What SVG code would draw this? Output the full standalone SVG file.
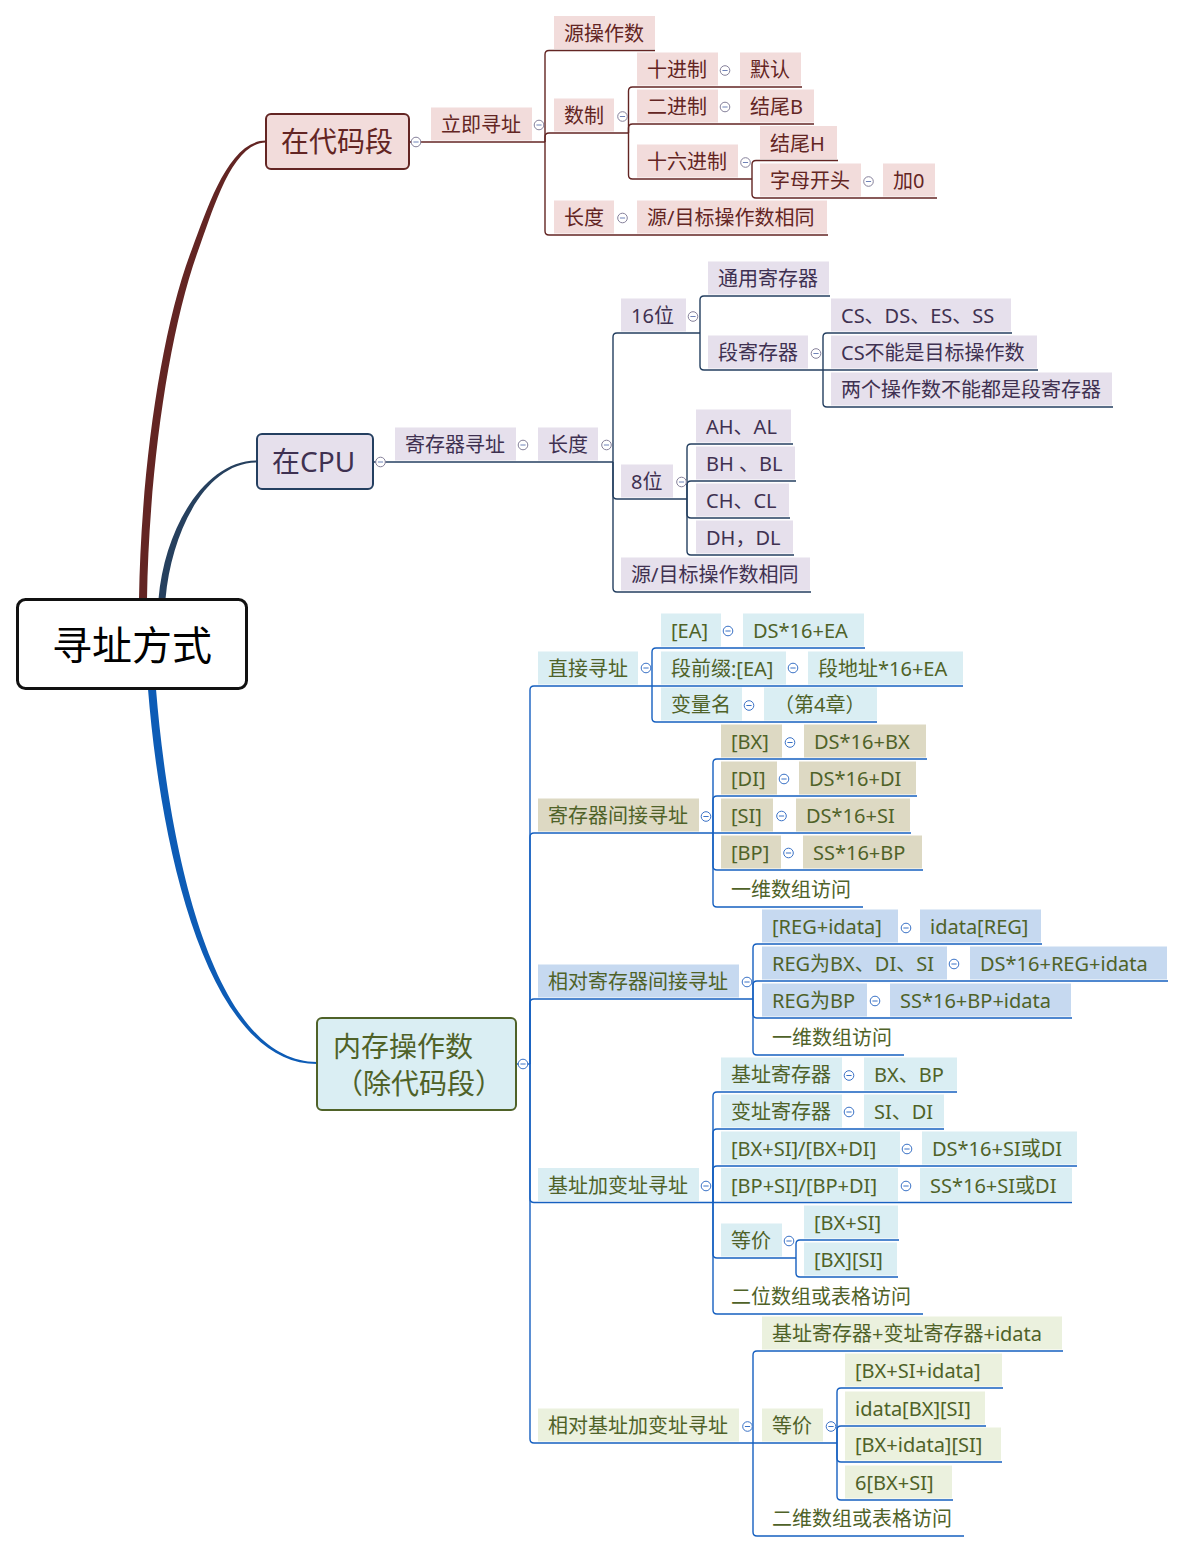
<svg xmlns="http://www.w3.org/2000/svg" width="1183" height="1552" viewBox="0 0 1183 1552">
<style>
.t{font-family:"Noto Sans","Noto Sans CJK SC",sans-serif;font-size:20px;transform:translateY(1px)}
.tb{font-family:"Noto Sans","Noto Sans CJK SC",sans-serif;font-size:28px}
.tc{fill:#632523}.tp{fill:#3f3151}.tm{fill:#4f6228}
.fc{fill:#f2dcdb}.fp{fill:#e6e0ec}.fd{fill:#daeef3}.fr{fill:#ddd9c3}.fb{fill:#c6d9f0}.fg{fill:#ebf1de}
.l{fill:none;stroke-width:1.4}
.lc{stroke:#632523}.lp{stroke:#243f60}.lm{stroke:#1660c0}
</style>
<defs>
<g id="col-c"><circle r="4.8" fill="#fff" stroke="#85809a" stroke-width="1"/><path d="M-2.6,0H2.6" stroke="#6f82b8" stroke-width="1"/></g>
<g id="col-m"><circle r="4.8" fill="#fff" stroke="#3a72c6" stroke-width="1"/><path d="M-2.6,0H2.6" stroke="#3a72c6" stroke-width="1"/></g>
</defs>

<g id="branches">
<path fill="#632523" d="M147,599 C149,470 169,331 198,251 C212.5,212 231.5,142.5 266,142.5 L266,140.5 C228.5,140.5 207.5,208 192,249 C161,329 141,470 139,599 Z"/>
<path fill="#26405e" d="M165.5,599 C171.5,531 206,462.5 257,462.5 L257,460.5 C204,460.5 164.5,529 158.5,599 Z"/>
<path fill="#0d5cb6" d="M156,689 C169,848 212,1062 317,1062 L317,1064 C208,1064 161,852 148,689 Z"/>
</g>

<g id="connectors">
<g class="l lc">
<path d="M409,142H545"/>
<path d="M545,142V54.5Q545,50.5 549,50.5H655"/>
<path d="M545,142V137Q545,133 549,133H628.5"/>
<path d="M545,142V231Q545,235 549,235H828"/>
<path d="M628.5,133V91Q628.5,87 632.5,87H802"/>
<path d="M628.5,133V128Q628.5,124 632.5,124H814"/>
<path d="M628.5,133V175Q628.5,179 632.5,179H752"/>
<path d="M752,179V164.5Q752,160.5 756,160.5H838"/>
<path d="M752,179V194Q752,198 756,198H937"/>
</g>
<g class="l lp">
<path d="M373,462H613"/>
<path d="M613,462V337Q613,333 617,333H700"/>
<path d="M613,462V495Q613,499 617,499H687"/>
<path d="M613,462V588Q613,592 617,592H811"/>
<path d="M700,333V300Q700,296 704,296H830"/>
<path d="M700,333V366Q700,370 704,370H823"/>
<path d="M823,370V337Q823,333 827,333H1012"/>
<path d="M823,370H1038"/>
<path d="M823,370V403Q823,407 827,407H1113"/>
<path d="M687,499V448Q687,444 691,444H793"/>
<path d="M687,499V485Q687,481 691,481H796"/>
<path d="M687,499V514Q687,518 691,518H790"/>
<path d="M687,499V551Q687,555 691,555H794"/>
</g>
<g class="l lm">
<path d="M516,1064H530"/>
<path d="M530,1064V690Q530,686 534,686H652"/>
<path d="M530,1064V837Q530,833 534,833H713"/>
<path d="M530,1064V1003Q530,999 534,999H753"/>
<path d="M530,1064V1198.5Q530,1202.5 534,1202.5H713"/>
<path d="M530,1064V1439Q530,1443 534,1443H837"/>
<path d="M652,686V652Q652,648 656,648H865"/>
<path d="M652,686H963"/>
<path d="M652,686V718Q652,722 656,722H877"/>
<path d="M713,833V763Q713,759 717,759H927"/>
<path d="M713,833V800Q713,796 717,796H917"/>
<path d="M713,833H911"/>
<path d="M713,833V866Q713,870 717,870H923"/>
<path d="M713,833V903Q713,907 717,907H863"/>
<path d="M753,999V948Q753,944 757,944H1042"/>
<path d="M753,999V985Q753,981 757,981H1168"/>
<path d="M753,999V1014Q753,1018 757,1018H1072"/>
<path d="M753,999V1051Q753,1055 757,1055H904"/>
<path d="M713,1202.5V1096Q713,1092 717,1092H957"/>
<path d="M713,1202.5V1133Q713,1129 717,1129H944"/>
<path d="M713,1202.5V1170Q713,1166 717,1166H1077"/>
<path d="M713,1202.5H1072"/>
<path d="M713,1202.5V1254Q713,1258 717,1258H796"/>
<path d="M713,1202.5V1310Q713,1314 717,1314H923"/>
<path d="M796,1258V1244Q796,1240 800,1240H899"/>
<path d="M796,1258V1273Q796,1277 800,1277H898"/>
<path d="M753,1443V1355Q753,1351 757,1351H1063"/>
<path d="M753,1443V1532Q753,1536 757,1536H964"/>
<path d="M837,1443V1392Q837,1388 841,1388H1003"/>
<path d="M837,1443V1430Q837,1426 841,1426H986"/>
<path d="M837,1443V1458Q837,1462 841,1462H1002"/>
<path d="M837,1443V1496Q837,1500 841,1500H953"/>
</g>
</g>

<g id="root"><rect x="17.5" y="599.5" width="229" height="89" rx="8" fill="#fff" stroke="#111" stroke-width="3"/><text x="52" y="660" font-family="Noto Sans CJK SC, sans-serif" font-size="40" fill="#000">寻址方式</text></g>

<g id="code-seg"><rect x="266" y="114" width="143" height="55" rx="5" class="fc" stroke="#632523" stroke-width="2"/><text class="tb tc" x="281" y="152">在代码段</text></g>
<g id="in-cpu"><rect x="257" y="434" width="116" height="55" rx="5" class="fp" stroke="#243f60" stroke-width="2"/><text class="tb tp" x="272" y="472">在CPU</text></g>
<g id="memory"><rect x="317" y="1018" width="199" height="92" rx="5" class="fd" stroke="#4f6228" stroke-width="2"/><text class="tb tm" x="333" y="1057">内存操作数</text><text class="tb tm" x="335" y="1094">（除代码段）</text></g>

<g id="n1"><rect class="fc" x="431" y="107.5" width="101" height="33"/><text class="t tc" x="441" y="131">立即寻址</text></g>
<g id="n2"><rect class="fc" x="554" y="16" width="101" height="33"/><text class="t tc" x="564" y="39.5">源操作数</text></g>
<g id="n3"><rect class="fc" x="554" y="98.5" width="60" height="33"/><text class="t tc" x="564" y="122">数制</text></g>
<g id="n4"><rect class="fc" x="554" y="200.5" width="60" height="33"/><text class="t tc" x="564" y="224">长度</text></g>
<g id="n5"><rect class="fc" x="637" y="52.5" width="81" height="33"/><text class="t tc" x="647" y="76">十进制</text></g>
<g id="n6"><rect class="fc" x="740" y="52.5" width="61" height="33"/><text class="t tc" x="750" y="76">默认</text></g>
<g id="n7"><rect class="fc" x="637" y="89.5" width="81" height="33"/><text class="t tc" x="647" y="113">二进制</text></g>
<g id="n8"><rect class="fc" x="740" y="89.5" width="74" height="33"/><text class="t tc" x="750" y="113">结尾B</text></g>
<g id="n9"><rect class="fc" x="637" y="144.5" width="101" height="33"/><text class="t tc" x="647" y="168">十六进制</text></g>
<g id="n10"><rect class="fc" x="760" y="126" width="77" height="33"/><text class="t tc" x="770" y="149.5">结尾H</text></g>
<g id="n11"><rect class="fc" x="760" y="163.5" width="101" height="33"/><text class="t tc" x="770" y="187">字母开头</text></g>
<g id="n12"><rect class="fc" x="883" y="163.5" width="52" height="33"/><text class="t tc" x="893" y="187">加0</text></g>
<g id="n13"><rect class="fc" x="637" y="200.5" width="190" height="33"/><text class="t tc" x="647" y="224">源/目标操作数相同</text></g>

<g id="p1"><rect class="fp" x="395" y="427.5" width="121" height="33"/><text class="t tp" x="405" y="451">寄存器寻址</text></g>
<g id="p2"><rect class="fp" x="538" y="427.5" width="60" height="33"/><text class="t tp" x="548" y="451">长度</text></g>
<g id="p3"><rect class="fp" x="621" y="298.5" width="65" height="33"/><text class="t tp" x="631" y="322">16位</text></g>
<g id="p4"><rect class="fp" x="708" y="261.5" width="121" height="33"/><text class="t tp" x="718" y="285">通用寄存器</text></g>
<g id="p5"><rect class="fp" x="708" y="335.5" width="100" height="33"/><text class="t tp" x="718" y="359">段寄存器</text></g>
<g id="p6"><rect class="fp" x="831" y="298.5" width="180" height="33"/><text class="t tp" x="841" y="322">CS、DS、ES、SS</text></g>
<g id="p7"><rect class="fp" x="831" y="335.5" width="206" height="33"/><text class="t tp" x="841" y="359">CS不能是目标操作数</text></g>
<g id="p8"><rect class="fp" x="831" y="372.5" width="281" height="33"/><text class="t tp" x="841" y="396">两个操作数不能都是段寄存器</text></g>
<g id="p9"><rect class="fp" x="621" y="464.5" width="52" height="33"/><text class="t tp" x="631" y="488">8位</text></g>
<g id="p10"><rect class="fp" x="696" y="409.5" width="95" height="33"/><text class="t tp" x="706" y="433">AH、AL</text></g>
<g id="p11"><rect class="fp" x="696" y="446.5" width="99" height="33"/><text class="t tp" x="706" y="470">BH 、BL</text></g>
<g id="p12"><rect class="fp" x="696" y="483.5" width="93" height="33"/><text class="t tp" x="706" y="507">CH、CL</text></g>
<g id="p13"><rect class="fp" x="696" y="520.5" width="97" height="33"/><text class="t tp" x="706" y="544">DH，DL</text></g>
<g id="p14"><rect class="fp" x="621" y="557.5" width="189" height="33"/><text class="t tp" x="631" y="581">源/目标操作数相同</text></g>

<g id="m1"><rect class="fd" x="538" y="651.5" width="100" height="33"/><text class="t tm" x="548" y="675">直接寻址</text></g>
<g id="m2"><rect class="fd" x="661" y="613.5" width="60" height="33"/><text class="t tm" x="671" y="637">[EA]</text></g>
<g id="m3"><rect class="fd" x="743" y="613.5" width="121" height="33"/><text class="t tm" x="753" y="637">DS*16+EA</text></g>
<g id="m4"><rect class="fd" x="661" y="651.5" width="125" height="33"/><text class="t tm" x="671" y="675">段前缀:[EA]</text></g>
<g id="m5"><rect class="fd" x="808" y="651.5" width="155" height="33"/><text class="t tm" x="818" y="675">段地址*16+EA</text></g>
<g id="m6"><rect class="fd" x="661" y="687.5" width="81" height="33"/><text class="t tm" x="671" y="711">变量名</text></g>
<g id="m7"><rect class="fd" x="764" y="687.5" width="113" height="33"/><text class="t tm" x="774" y="711">（第4章）</text></g>

<g id="m8"><rect class="fr" x="538" y="798.5" width="161" height="33"/><text class="t tm" x="548" y="822">寄存器间接寻址</text></g>
<g id="m9"><rect class="fr" x="721" y="724.5" width="61" height="33"/><text class="t tm" x="731" y="748">[BX]</text></g>
<g id="m10"><rect class="fr" x="804" y="724.5" width="122" height="33"/><text class="t tm" x="814" y="748">DS*16+BX</text></g>
<g id="m11"><rect class="fr" x="721" y="761.5" width="56" height="33"/><text class="t tm" x="731" y="785">[DI]</text></g>
<g id="m12"><rect class="fr" x="799" y="761.5" width="117" height="33"/><text class="t tm" x="809" y="785">DS*16+DI</text></g>
<g id="m13"><rect class="fr" x="721" y="798.5" width="52" height="33"/><text class="t tm" x="731" y="822">[SI]</text></g>
<g id="m14"><rect class="fr" x="796" y="798.5" width="114" height="33"/><text class="t tm" x="806" y="822">DS*16+SI</text></g>
<g id="m15"><rect class="fr" x="721" y="835.5" width="60" height="33"/><text class="t tm" x="731" y="859">[BP]</text></g>
<g id="m16"><rect class="fr" x="803" y="835.5" width="119" height="33"/><text class="t tm" x="813" y="859">SS*16+BP</text></g>
<g id="m17"><text class="t tm" x="731" y="896">一维数组访问</text></g>

<g id="m18"><rect class="fb" x="538" y="964.5" width="201" height="33"/><text class="t tm" x="548" y="988">相对寄存器间接寻址</text></g>
<g id="m19"><rect class="fb" x="762" y="909.5" width="136" height="33"/><text class="t tm" x="772" y="933">[REG+idata]</text></g>
<g id="m20"><rect class="fb" x="920" y="909.5" width="121" height="33"/><text class="t tm" x="930" y="933">idata[REG]</text></g>
<g id="m21"><rect class="fb" x="762" y="946.5" width="185" height="33"/><text class="t tm" x="772" y="970">REG为BX、DI、SI</text></g>
<g id="m22"><rect class="fb" x="970" y="946.5" width="197" height="33"/><text class="t tm" x="980" y="970">DS*16+REG+idata</text></g>
<g id="m23"><rect class="fb" x="762" y="983.5" width="105" height="33"/><text class="t tm" x="772" y="1007">REG为BP</text></g>
<g id="m24"><rect class="fb" x="890" y="983.5" width="181" height="33"/><text class="t tm" x="900" y="1007">SS*16+BP+idata</text></g>
<g id="m25"><text class="t tm" x="772" y="1044">一维数组访问</text></g>

<g id="m26"><rect class="fd" x="538" y="1168" width="161" height="33"/><text class="t tm" x="548" y="1191.5">基址加变址寻址</text></g>
<g id="m27"><rect class="fd" x="721" y="1057.5" width="121" height="33"/><text class="t tm" x="731" y="1081">基址寄存器</text></g>
<g id="m28"><rect class="fd" x="864" y="1057.5" width="93" height="33"/><text class="t tm" x="874" y="1081">BX、BP</text></g>
<g id="m29"><rect class="fd" x="721" y="1094.5" width="121" height="33"/><text class="t tm" x="731" y="1118">变址寄存器</text></g>
<g id="m30"><rect class="fd" x="864" y="1094.5" width="80" height="33"/><text class="t tm" x="874" y="1118">SI、DI</text></g>
<g id="m31"><rect class="fd" x="721" y="1131.5" width="179" height="33"/><text class="t tm" x="731" y="1155">[BX+SI]/[BX+DI]</text></g>
<g id="m32"><rect class="fd" x="922" y="1131.5" width="155" height="33"/><text class="t tm" x="932" y="1155">DS*16+SI或DI</text></g>
<g id="m33"><rect class="fd" x="721" y="1168" width="177" height="33"/><text class="t tm" x="731" y="1191.5">[BP+SI]/[BP+DI]</text></g>
<g id="m34"><rect class="fd" x="920" y="1168" width="152" height="33"/><text class="t tm" x="930" y="1191.5">SS*16+SI或DI</text></g>
<g id="m35"><rect class="fd" x="721" y="1223.5" width="61" height="33"/><text class="t tm" x="731" y="1247">等价</text></g>
<g id="m36"><rect class="fd" x="804" y="1205.5" width="94" height="33"/><text class="t tm" x="814" y="1229">[BX+SI]</text></g>
<g id="m37"><rect class="fd" x="804" y="1242.5" width="93" height="33"/><text class="t tm" x="814" y="1266">[BX][SI]</text></g>
<g id="m38"><text class="t tm" x="731" y="1303">二位数组或表格访问</text></g>

<g id="m39"><rect class="fg" x="538" y="1408.5" width="201" height="33"/><text class="t tm" x="548" y="1432">相对基址加变址寻址</text></g>
<g id="m40"><rect class="fg" x="762" y="1316.5" width="300" height="33"/><text class="t tm" x="772" y="1340">基址寄存器+变址寄存器+idata</text></g>
<g id="m41"><rect class="fg" x="762" y="1408.5" width="61" height="33"/><text class="t tm" x="772" y="1432">等价</text></g>
<g id="m42"><rect class="fg" x="845" y="1353.5" width="157" height="33"/><text class="t tm" x="855" y="1377">[BX+SI+idata]</text></g>
<g id="m43"><rect class="fg" x="845" y="1391.5" width="140" height="33"/><text class="t tm" x="855" y="1415">idata[BX][SI]</text></g>
<g id="m44"><rect class="fg" x="845" y="1427.5" width="156" height="33"/><text class="t tm" x="855" y="1451">[BX+idata][SI]</text></g>
<g id="m45"><rect class="fg" x="845" y="1465.5" width="107" height="33"/><text class="t tm" x="855" y="1489">6[BX+SI]</text></g>
<g id="m46"><text class="t tm" x="772" y="1525">二维数组或表格访问</text></g>

<g id="collapse-icons">
<use href="#col-c" x="416" y="142"/>
<use href="#col-c" x="539" y="125"/>
<use href="#col-c" x="622.5" y="116.5"/>
<use href="#col-c" x="622.5" y="218"/>
<use href="#col-c" x="725" y="70.5"/>
<use href="#col-c" x="725" y="107"/>
<use href="#col-c" x="745.5" y="162.5"/>
<use href="#col-c" x="868.5" y="181.5"/>
<use href="#col-c" x="380.5" y="462"/>
<use href="#col-c" x="523" y="445"/>
<use href="#col-c" x="606.5" y="445"/>
<use href="#col-c" x="693" y="316.5"/>
<use href="#col-c" x="816" y="353.5"/>
<use href="#col-c" x="681.5" y="482"/>
<use href="#col-m" x="523" y="1064"/>
<use href="#col-m" x="646" y="668"/>
<use href="#col-m" x="728" y="631"/>
<use href="#col-m" x="793" y="668"/>
<use href="#col-m" x="749" y="705.5"/>
<use href="#col-m" x="706" y="816.5"/>
<use href="#col-m" x="790" y="742.5"/>
<use href="#col-m" x="784" y="779"/>
<use href="#col-m" x="781.5" y="816"/>
<use href="#col-m" x="788.5" y="853"/>
<use href="#col-m" x="747" y="982"/>
<use href="#col-m" x="906" y="928"/>
<use href="#col-m" x="954" y="964"/>
<use href="#col-m" x="875" y="1001"/>
<use href="#col-m" x="706" y="1186"/>
<use href="#col-m" x="849" y="1075.5"/>
<use href="#col-m" x="849" y="1112"/>
<use href="#col-m" x="907" y="1149"/>
<use href="#col-m" x="906" y="1186"/>
<use href="#col-m" x="789" y="1241"/>
<use href="#col-m" x="747.5" y="1426.5"/>
<use href="#col-m" x="831" y="1426.5"/>
</g>
</svg>
